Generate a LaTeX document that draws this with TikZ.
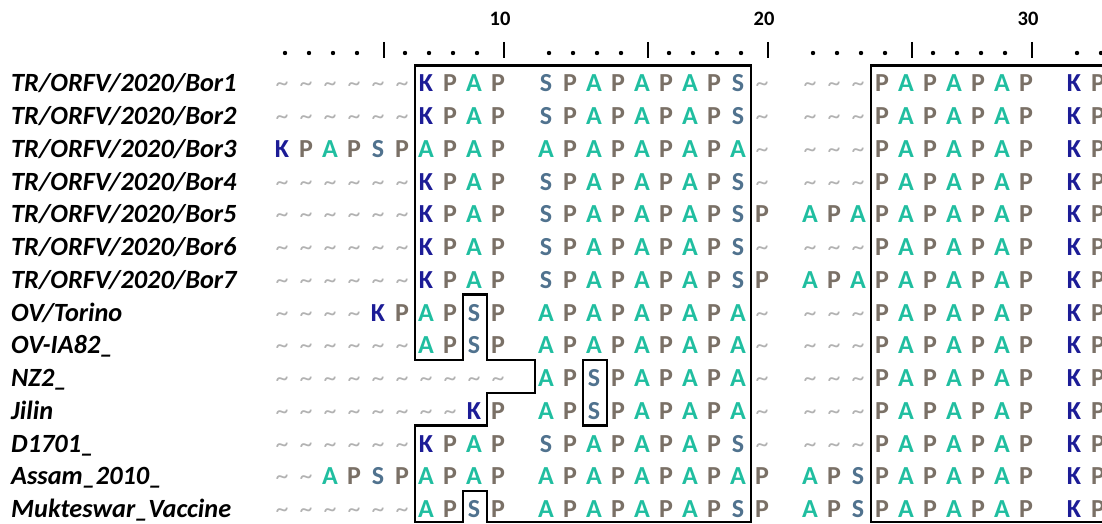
\documentclass[tikz,border=0pt]{standalone}
\usepackage{fontspec}
\setmainfont{Carlito}

\definecolor{colK}{RGB}{28,28,150}
\definecolor{colP}{RGB}{122,112,102}
\definecolor{colA}{RGB}{32,190,160}
\definecolor{colS}{RGB}{80,114,142}
\definecolor{colGap}{RGB}{178,178,178}

% residue glyphs
\newcommand\symK{K}
\newcommand\symP{P}
\newcommand\symA{A}
\newcommand\symS{S}
\newcommand\symg{\textasciitilde}
\newcommand\seqfont{\fontsize{26}{30}\selectfont\bfseries}
\newcommand\labfont{\fontsize{26.3}{30}\selectfont\bfseries\itshape}

\tikzset{
  x=1pt, y=-1pt,
  declare function={
    colx(\c)=282+24*(\c-1+floor((\c-1)/10));
    edgex(\c)=colx(\c)-11;
    rowtop(\r)=65.5+32.73*(\r-1);
  },
  res/.style={anchor=base, inner sep=0pt, font=\seqfont},
  resK/.style={res, text=colK},
  resP/.style={res, text=colP},
  resA/.style={res, text=colA},
  resS/.style={res, text=colS},
  resg/.style={res, text=colGap, font=\seqfont\mdseries},
  seqname/.style={anchor=base west, inner sep=0pt, font=\labfont},
  rulernum/.style={anchor=base, inner sep=0pt, font=\fontsize{20.5}{24}\selectfont\bfseries},
  frame/.style={draw=black, line width=2.6pt, line join=miter},
}

\begin{document}
\begin{tikzpicture}
\useasboundingbox (0,0) rectangle (1102,524);

% ruler: dots, tick bars every fifth column, numbers every tenth
\foreach \c in {1,...,32}{
  \pgfmathsetmacro\xx{colx(\c)}
  \pgfmathtruncatemacro\m{mod(\c,5)}
  \ifnum\m=0
    \draw[line width=2.6pt] (\xx+6,42) -- (\xx+6,58);
  \else
    \fill (\xx+3,53) circle (2.2);
  \fi
}
\foreach \c in {10,20,30}{
  \node[rulernum] (num\c) at ({colx(\c)+2},26) {\c};
}

% sequence names
\foreach \r/\nm in {
  1/{TR/ORFV/2020/Bor1}, 2/{TR/ORFV/2020/Bor2}, 3/{TR/ORFV/2020/Bor3},
  4/{TR/ORFV/2020/Bor4}, 5/{TR/ORFV/2020/Bor5}, 6/{TR/ORFV/2020/Bor6},
  7/{TR/ORFV/2020/Bor7}, 8/{OV/Torino}, 9/{OV-IA82\_}, 10/{NZ2\_},
  11/{Jilin}, 12/{D1701\_}, 13/{Assam\_2010\_}, 14/{Mukteswar\_Vaccine}}{
  \node[seqname] (lab\r) at (11,{rowtop(\r)+26.5}) {\nm};
}

% aligned residues (g = gap)
\foreach \r/\seq in {
  1/{g,g,g,g,g,g,K,P,A,P,S,P,A,P,A,P,A,P,S,g,g,g,g,P,A,P,A,P,A,P,K,P},
  2/{g,g,g,g,g,g,K,P,A,P,S,P,A,P,A,P,A,P,S,g,g,g,g,P,A,P,A,P,A,P,K,P},
  3/{K,P,A,P,S,P,A,P,A,P,A,P,A,P,A,P,A,P,A,g,g,g,g,P,A,P,A,P,A,P,K,P},
  4/{g,g,g,g,g,g,K,P,A,P,S,P,A,P,A,P,A,P,S,g,g,g,g,P,A,P,A,P,A,P,K,P},
  5/{g,g,g,g,g,g,K,P,A,P,S,P,A,P,A,P,A,P,S,P,A,P,A,P,A,P,A,P,A,P,K,P},
  6/{g,g,g,g,g,g,K,P,A,P,S,P,A,P,A,P,A,P,S,g,g,g,g,P,A,P,A,P,A,P,K,P},
  7/{g,g,g,g,g,g,K,P,A,P,S,P,A,P,A,P,A,P,S,P,A,P,A,P,A,P,A,P,A,P,K,P},
  8/{g,g,g,g,K,P,A,P,S,P,A,P,A,P,A,P,A,P,A,g,g,g,g,P,A,P,A,P,A,P,K,P},
  9/{g,g,g,g,g,g,A,P,S,P,A,P,A,P,A,P,A,P,A,g,g,g,g,P,A,P,A,P,A,P,K,P},
  10/{g,g,g,g,g,g,g,g,g,g,A,P,S,P,A,P,A,P,A,g,g,g,g,P,A,P,A,P,A,P,K,P},
  11/{g,g,g,g,g,g,g,g,K,P,A,P,S,P,A,P,A,P,A,g,g,g,g,P,A,P,A,P,A,P,K,P},
  12/{g,g,g,g,g,g,K,P,A,P,S,P,A,P,A,P,A,P,S,g,g,g,g,P,A,P,A,P,A,P,K,P},
  13/{g,g,A,P,S,P,A,P,A,P,A,P,A,P,A,P,A,P,A,P,A,P,S,P,A,P,A,P,A,P,K,P},
  14/{g,g,g,g,g,g,A,P,S,P,A,P,A,P,A,P,A,P,S,P,A,P,S,P,A,P,A,P,A,P,K,P}}{
  \foreach \ch [count=\c] in \seq {
    \node[res\ch] (s\r-\c) at ({colx(\c)},{rowtop(\r)+26.5}) {\csname sym\ch\endcsname};
  }
}

% framed region of the repeat, with its notches
\draw[frame]
  ({edgex(7)},{rowtop(1)}) -- ({edgex(20)},{rowtop(1)}) -- ({edgex(20)},522)
  -- ({edgex(10)},522) -- ({edgex(10)},{rowtop(14)}) -- ({edgex(9)},{rowtop(14)})
  -- ({edgex(9)},522) -- ({edgex(7)},522) -- ({edgex(7)},{rowtop(12)})
  -- ({edgex(10)},{rowtop(12)}) -- ({edgex(10)},{rowtop(11)})
  -- ({edgex(11)},{rowtop(11)}) -- ({edgex(11)},{rowtop(10)})
  -- ({edgex(10)},{rowtop(10)}) -- ({edgex(10)},{rowtop(8)})
  -- ({edgex(9)},{rowtop(8)}) -- ({edgex(9)},{rowtop(10)})
  -- ({edgex(7)},{rowtop(10)}) -- cycle;

% serine box in NZ2_ and Jilin
\draw[frame] ({edgex(13)},{rowtop(10)}) rectangle ({edgex(14)},{rowtop(12)});

% right-hand block
\draw[frame] ({edgex(24)},{rowtop(1)}) rectangle (1130,522);
\end{tikzpicture}
\end{document}
